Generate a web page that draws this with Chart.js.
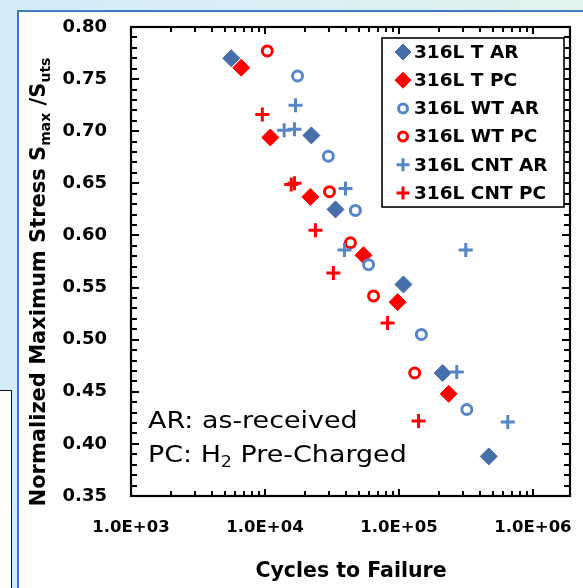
<!DOCTYPE html>
<html>
<head>
<meta charset="utf-8">
<script src="https://cdn.jsdelivr.net/npm/chart.js@4.4.1/dist/chart.umd.min.js"></script>
<style>
  html, body { margin:0; padding:0; }
  body { width:583px; height:588px; overflow:hidden; position:relative;
         background: linear-gradient(to right, #d3eaf8 0%, #dcf0f6 55%, #e3f4ec 100%); }
  #panel { position:absolute; left:17px; top:10px; right:0; bottom:0; background:#fff;
           border-left:2px solid #3d7cc0; border-top:2px solid #3d7cc0; }
  #sidebox { position:absolute; left:-2px; top:390px; width:12px; height:220px; background:#fff;
             border:1.5px solid #111; }
  #c { position:absolute; left:0; top:0; }
</style>
</head>
<body>
<div id="panel"></div>
<div id="sidebox"></div>
<canvas id="c" width="583" height="588"></canvas>
<script>
// ---- data (cycles to failure, normalized max stress) ----
const seriesNames = ['316L T AR', '316L T PC', '316L WT AR', '316L WT PC', '316L CNT AR', '316L CNT PC'];

const tArN  = [5600, 22200, 33600, 108000, 212000, 468000];
const tArS  = [0.770, 0.696, 0.625, 0.553, 0.468, 0.388];
const tPcN  = [6650, 10960, 21800, 54300, 97700, 235000];
const tPcS  = [0.761, 0.694, 0.637, 0.581, 0.536, 0.448];
const wtArN = [17500, 29700, 47300, 59300, 147000, 321000];
const wtArS = [0.753, 0.676, 0.624, 0.572, 0.505, 0.433];
const wtPcN = [10400, 30300, 43400, 64600, 131000];
const wtPcS = [0.777, 0.642, 0.593, 0.542, 0.468];
const cntArN = [16900, 13900, 16600, 39900, 39200, 315000, 270000, 649000];
const cntArS = [0.725, 0.701, 0.702, 0.645, 0.586, 0.586, 0.469, 0.421];
const cntPcN = [9550, 15700, 16600, 23800, 32400, 82200, 140000];
const cntPcS = [0.716, 0.649, 0.650, 0.605, 0.564, 0.516, 0.422];

const xTickValues = [1e3, 1e4, 1e5, 1e6];
const yTickValues = [0.35, 0.40, 0.45, 0.50, 0.55, 0.60, 0.65, 0.70, 0.75, 0.80];

const xTitle = 'Cycles to Failure';
const noteLine1 = 'AR: as-received';

// ---- build ----
function pts(xs, ys) { return xs.map((x, i) => ({ x: x, y: ys[i] })); }

const BLUE_D = '#466ea9';
const BLUE_L = '#5686c8';
const RED = '#ff0000';

const styles = [
  { pointStyle: 'rectRot', radius: 8.5, borderWidth: 1, borderColor: BLUE_D, backgroundColor: BLUE_D },
  { pointStyle: 'rectRot', radius: 8.5, borderWidth: 1, borderColor: RED, backgroundColor: RED },
  { pointStyle: 'circle', radius: 5, borderWidth: 3, borderColor: BLUE_L, backgroundColor: '#ffffff' },
  { pointStyle: 'circle', radius: 5, borderWidth: 3, borderColor: RED, backgroundColor: '#ffffff' },
  { pointStyle: 'cross', radius: 7, borderWidth: 3, borderColor: BLUE_L, backgroundColor: BLUE_L },
  { pointStyle: 'cross', radius: 7, borderWidth: 3, borderColor: RED, backgroundColor: RED }
];
const seriesData = [pts(tArN, tArS), pts(tPcN, tPcS), pts(wtArN, wtArS), pts(wtPcN, wtPcS), pts(cntArN, cntArS), pts(cntPcN, cntPcS)];

const datasets = seriesNames.map((name, i) => ({
  label: name,
  data: seriesData[i],
  showLine: false,
  order: 5 - i,
  pointStyle: styles[i].pointStyle,
  pointRadius: styles[i].radius,
  pointHoverRadius: styles[i].radius,
  pointBorderWidth: styles[i].borderWidth,
  pointBorderColor: styles[i].borderColor,
  pointBackgroundColor: styles[i].backgroundColor,
  borderColor: styles[i].borderColor,
  backgroundColor: styles[i].backgroundColor
}));

const BOLD = 'bold';
const FAM = '"DejaVu Sans", sans-serif';

function zeroPad(s) { s.paddingTop = 0; s.paddingBottom = 0; s.paddingLeft = 0; s.paddingRight = 0; }

const decor = {
  id: 'decor',
  beforeDatasetsDraw(chart) {
    const ctx = chart.ctx, a = chart.chartArea;
    const xs = chart.scales.x, ys = chart.scales.y;
    ctx.save();
    ctx.strokeStyle = '#000';
    ctx.lineWidth = 2;
    ctx.lineCap = 'butt';
    ctx.beginPath();
    // y ticks every 0.01
    for (let i = 35; i <= 80; i++) {
      const p = Math.round(ys.getPixelForValue(i / 100));
      const len = (i % 5 === 0) ? 8 : 6;
      ctx.moveTo(a.left, p); ctx.lineTo(a.left + len, p);
      ctx.moveTo(a.right, p); ctx.lineTo(a.right - len, p);
    }
    // x ticks (log minor)
    for (let d = 3; d <= 6; d++) {
      for (let m = 1; m <= 9; m++) {
        const v = m * Math.pow(10, d);
        if (v > xs.max) continue;
        const p = Math.round(xs.getPixelForValue(v));
        const len = (m === 1) ? 7 : 5;
        ctx.moveTo(p, a.bottom); ctx.lineTo(p, a.bottom - len);
        ctx.moveTo(p, a.top); ctx.lineTo(p, a.top + len);
      }
    }
    ctx.stroke();
    ctx.lineWidth = 2.2;
    ctx.strokeRect(a.left, a.top, a.right - a.left, a.bottom - a.top);
    ctx.restore();
  },
  afterDatasetsDraw(chart) {
    const ctx = chart.ctx;
    ctx.save();
    // legend box
    const lx = 382, ly = 38, lw = 182, lh = 169;
    ctx.fillStyle = '#fff';
    ctx.fillRect(lx, ly, lw, lh);
    ctx.strokeStyle = '#000';
    ctx.lineWidth = 1.6;
    ctx.strokeRect(lx, ly, lw, lh);
    ctx.font = BOLD + ' 18.5px ' + FAM;
    ctx.textBaseline = 'middle';
    ctx.textAlign = 'left';
    chart.data.datasets.forEach((ds, i) => {
      const y = 52 + i * 28.2;
      const st = styles[i];
      ctx.fillStyle = ds.pointBackgroundColor;
      ctx.strokeStyle = ds.pointBorderColor;
      ctx.lineWidth = ds.pointBorderWidth;
      Chart.helpers.drawPoint(ctx, { pointStyle: ds.pointStyle, radius: st.pointStyle === 'rectRot' ? 8 : (st.pointStyle === 'circle' ? 4.5 : 6.5), rotation: 0, borderWidth: ds.pointBorderWidth }, 403, y);
      ctx.fillStyle = '#000';
      ctx.fillText(ds.label, 414, y + 1);
    });

    // annotation (slightly widened to match the reference's stretched text)
    ctx.fillStyle = '#000';
    ctx.textBaseline = 'alphabetic';
    ctx.save();
    ctx.translate(148, 0);
    ctx.scale(1.17, 1);
    ctx.font = '23px ' + FAM;
    ctx.fillText(noteLine1, 0, 428);
    let x = 0;
    const y2 = 462;
    ctx.fillText('PC: H', x, y2); x += ctx.measureText('PC: H').width;
    ctx.font = '15px ' + FAM;
    ctx.fillText('2', x, y2 + 5); x += ctx.measureText('2').width;
    ctx.font = '23px ' + FAM;
    ctx.fillText(' Pre-Charged', x, y2);
    ctx.restore();

    // x title
    ctx.font = BOLD + ' 20.5px ' + FAM;
    ctx.textAlign = 'center';
    ctx.fillText(xTitle, 351, 577);

    // y title (rotated, with subscripts)
    const segs = [
      ['Normalized Maximum Stress S', 21, 0],
      ['max', 14, 5],
      [' /S', 21, 0],
      ['uts', 14, 5]
    ];
    ctx.textAlign = 'left';
    let total = 0;
    segs.forEach(s => { ctx.font = BOLD + ' ' + s[1] + 'px ' + FAM; s.push(ctx.measureText(s[0]).width); total += s[3]; });
    ctx.translate(45, 282);
    ctx.rotate(-Math.PI / 2);
    let cx = -total / 2;
    segs.forEach(s => {
      ctx.font = BOLD + ' ' + s[1] + 'px ' + FAM;
      ctx.fillText(s[0], cx, s[2]);
      cx += s[3];
    });
    ctx.restore();
  }
};

new Chart(document.getElementById('c'), {
  type: 'scatter',
  data: { datasets: datasets },
  options: {
    responsive: false,
    animation: false,
    devicePixelRatio: 1,
    layout: { padding: { left: 0, top: 27, right: 13, bottom: 0 } },
    plugins: { legend: { display: false }, tooltip: { enabled: false } },
    scales: {
      x: {
        type: 'logarithmic',
        min: 1000,
        max: 1.89e6,
        grid: { display: false, drawTicks: false },
        border: { display: false },
        afterBuildTicks: s => { s.ticks = xTickValues.map(v => ({ value: v })); },
        afterFit: s => { s.height = 92; zeroPad(s); },
        ticks: {
          autoSkip: false, maxRotation: 0, minRotation: 0, padding: 22, color: '#000',
          font: { family: FAM, size: 16.5, weight: 'bold' },
          callback: v => '1.0E+' + String(Math.round(Math.log10(v))).padStart(2, '0')
        }
      },
      y: {
        type: 'linear',
        min: 0.35,
        max: 0.80,
        grid: { display: false, drawTicks: false },
        border: { display: false },
        afterBuildTicks: s => { s.ticks = yTickValues.map(v => ({ value: v })); },
        afterFit: s => { s.width = 131; zeroPad(s); },
        ticks: {
          autoSkip: false, padding: 24, color: '#000',
          font: { family: FAM, size: 18, weight: 'bold' },
          callback: v => Number(v).toFixed(2)
        }
      }
    }
  },
  plugins: [decor]
});
</script>
</body>
</html>
